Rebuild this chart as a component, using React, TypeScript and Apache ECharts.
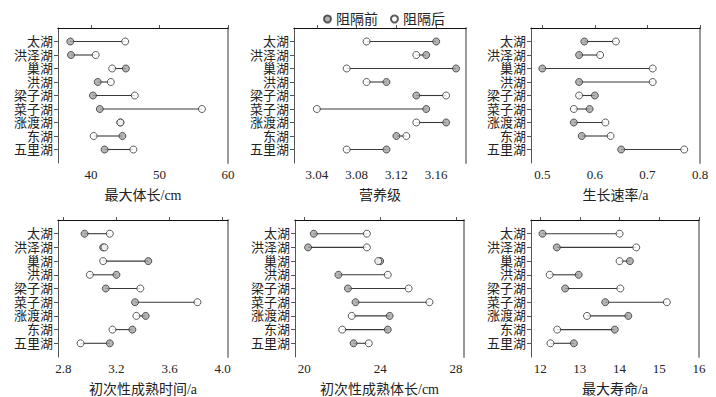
import React, { useEffect, useRef } from "react";
import * as echarts from "echarts";

const lakes = ["太湖", "洪泽湖", "巢湖", "洪湖", "梁子湖", "菜子湖", "涨渡湖", "东湖", "五里湖"];
const legendNames = ["阻隔前", "阻隔后"];

const bodyLenBefore = [37.0, 37.1, 45.1, 41.0, 40.3, 41.3, 44.3, 44.6, 42.0];
const bodyLenAfter = [45.0, 40.7, 43.1, 42.9, 46.4, 56.2, 44.3, 40.4, 46.2];
const bodyLenTicks = [40, 50, 60];

const trophicBefore = [3.16, 3.15, 3.18, 3.11, 3.14, 3.15, 3.17, 3.12, 3.11];
const trophicAfter = [3.09, 3.14, 3.07, 3.09, 3.17, 3.04, 3.14, 3.13, 3.07];
const trophicTicks = [3.04, 3.08, 3.12, 3.16];

const growthBefore = [0.58, 0.57, 0.5, 0.57, 0.6, 0.59, 0.56, 0.575, 0.65];
const growthAfter = [0.64, 0.61, 0.71, 0.71, 0.57, 0.56, 0.62, 0.63, 0.77];
const growthTicks = [0.5, 0.6, 0.7, 0.8];

const matTimeBefore = [2.96, 3.1, 3.44, 3.2, 3.12, 3.34, 3.42, 3.32, 3.15];
const matTimeAfter = [3.15, 3.11, 3.1, 3.0, 3.38, 3.81, 3.35, 3.17, 2.93];
const matTimeTicks = [2.8, 3.2, 3.6, 4.0];

const matLenBefore = [20.5, 20.2, 24.0, 21.8, 22.3, 22.7, 24.5, 24.4, 22.6];
const matLenAfter = [23.3, 23.3, 23.9, 24.4, 25.5, 26.6, 22.5, 22.0, 23.4];
const matLenTicks = [20, 24, 28];

const lifeBefore = [12.06, 12.42, 14.26, 12.97, 12.63, 13.64, 14.22, 13.88, 12.85];
const lifeAfter = [14.0, 14.42, 14.0, 12.24, 14.02, 15.19, 13.18, 12.43, 12.26];
const lifeTicks = [12, 13, 14, 15, 16];

const FONT = "'Liberation Serif', 'Noto Sans CJK SC', serif";

const panels = [
  { name: "最大体长/cm", before: bodyLenBefore, after: bodyLenAfter, ticks: bodyLenTicks, digits: 0, min: 35.2, max: 60, grid: { left: 58, top: 28, width: 170, height: 135 } },
  { name: "营养级", before: trophicBefore, after: trophicAfter, ticks: trophicTicks, digits: 2, min: 3.017, max: 3.19, grid: { left: 294, top: 28, width: 172, height: 135 } },
  { name: "生长速率/a", before: growthBefore, after: growthAfter, ticks: growthTicks, digits: 1, min: 0.4785, max: 0.8, grid: { left: 531, top: 28, width: 169, height: 135 } },
  { name: "初次性成熟时间/a", before: matTimeBefore, after: matTimeAfter, ticks: matTimeTicks, digits: 1, min: 2.76, max: 4.04, grid: { left: 58, top: 220, width: 170, height: 137 } },
  { name: "初次性成熟体长/cm", before: matLenBefore, after: matLenAfter, ticks: matLenTicks, digits: 0, min: 19.51, max: 28.42, grid: { left: 295, top: 220, width: 169, height: 137 } },
  { name: "最大寿命/a", before: lifeBefore, after: lifeAfter, ticks: lifeTicks, digits: 0, min: 11.77, max: 16, grid: { left: 531, top: 220, width: 168, height: 137 } },
];

const rowValues = lakes.map((_, i) => i + 1);

export default function App() {
  const ref = useRef<HTMLDivElement>(null);
  useEffect(() => {
    document.body.style.margin = "0";
    if (!ref.current) return;
    const chart = echarts.init(ref.current, undefined, { renderer: "svg" });
    const grids: any[] = [];
    const xAxes: any[] = [];
    const yAxes: any[] = [];
    const series: any[] = [];
    panels.forEach((p, i) => {
      grids.push({ ...p.grid, containLabel: false });
      xAxes.push({
        type: "value",
        gridIndex: i,
        min: p.min,
        max: p.max,
        position: "bottom",
        name: p.name,
        nameLocation: "middle",
        nameGap: 25,
        nameTextStyle: { fontFamily: FONT, fontSize: 14, color: "#222" },
        axisLine: { show: true, lineStyle: { color: "#555", width: 1 } },
        axisTick: { show: true, inside: true, length: 3, customValues: p.ticks, lineStyle: { color: "#555" } },
        axisLabel: {
          customValues: p.ticks,
          formatter: (v: number) => v.toFixed(p.digits),
          fontFamily: FONT,
          fontSize: 13,
          color: "#222",
          margin: 5,
        },
        splitLine: { show: false },
      });
      xAxes.push({
        type: "value",
        gridIndex: i,
        min: p.min,
        max: p.max,
        position: "top",
        axisLine: { show: true, lineStyle: { color: "#111", width: 1.2 } },
        axisTick: { show: false },
        axisLabel: { show: false },
        splitLine: { show: false },
      });
      yAxes.push({
        type: "value",
        gridIndex: i,
        inverse: true,
        min: 0,
        max: 10,
        position: "left",
        axisLine: { show: true, lineStyle: { color: "#555", width: 1 } },
        axisTick: { show: true, length: 4, customValues: rowValues, lineStyle: { color: "#555" } },
        axisLabel: {
          customValues: rowValues,
          formatter: (v: number) => lakes[Math.round(v) - 1] ?? "",
          fontFamily: FONT,
          fontSize: 13,
          color: "#222",
          margin: 5,
        },
        splitLine: { show: false },
      });
      yAxes.push({
        type: "value",
        gridIndex: i,
        inverse: true,
        min: 0,
        max: 10,
        position: "right",
        axisLine: { show: true, lineStyle: { color: "#999", width: 2 } },
        axisTick: { show: false },
        axisLabel: { show: false },
        splitLine: { show: false },
      });
      series.push({
        type: "custom",
        xAxisIndex: 2 * i,
        yAxisIndex: 2 * i,
        z: 1,
        encode: { x: [0, 1], y: 2 },
        data: lakes.map((_, j) => [p.before[j], p.after[j], j + 1]),
        renderItem: (_params: any, api: any) => {
          const a = api.coord([api.value(0), api.value(2)]);
          const b = api.coord([api.value(1), api.value(2)]);
          return {
            type: "line",
            shape: { x1: a[0], y1: a[1], x2: b[0], y2: b[1] },
            style: { stroke: "#3a3a3a", lineWidth: 1.1 },
          };
        },
      });
      series.push({
        type: "scatter",
        name: legendNames[0],
        xAxisIndex: 2 * i,
        yAxisIndex: 2 * i,
        z: 2,
        symbol: "circle",
        symbolSize: 7,
        itemStyle: { color: "#a3a3a3", borderColor: "#333", borderWidth: 1 },
        data: lakes.map((_, j) => [p.before[j], j + 1]),
      });
      series.push({
        type: "scatter",
        name: legendNames[1],
        xAxisIndex: 2 * i,
        yAxisIndex: 2 * i,
        z: 3,
        symbol: "circle",
        symbolSize: 7,
        itemStyle: { color: "#ffffff", borderColor: "#333", borderWidth: 1 },
        data: lakes.map((_, j) => [p.after[j], j + 1]),
      });
    });
    chart.setOption({
      animation: false,
      backgroundColor: "#ffffff",
      legend: {
        data: legendNames,
        top: 7,
        left: 318,
        icon: "circle",
        itemWidth: 7,
        itemHeight: 7,
        itemGap: 12,
        textStyle: { fontFamily: FONT, fontSize: 14, color: "#222" },
      },
      grid: grids,
      xAxis: xAxes,
      yAxis: yAxes,
      series,
    });
    return () => chart.dispose();
  }, []);
  return <div ref={ref} style={{ width: 716, height: 397 }} />;
}
